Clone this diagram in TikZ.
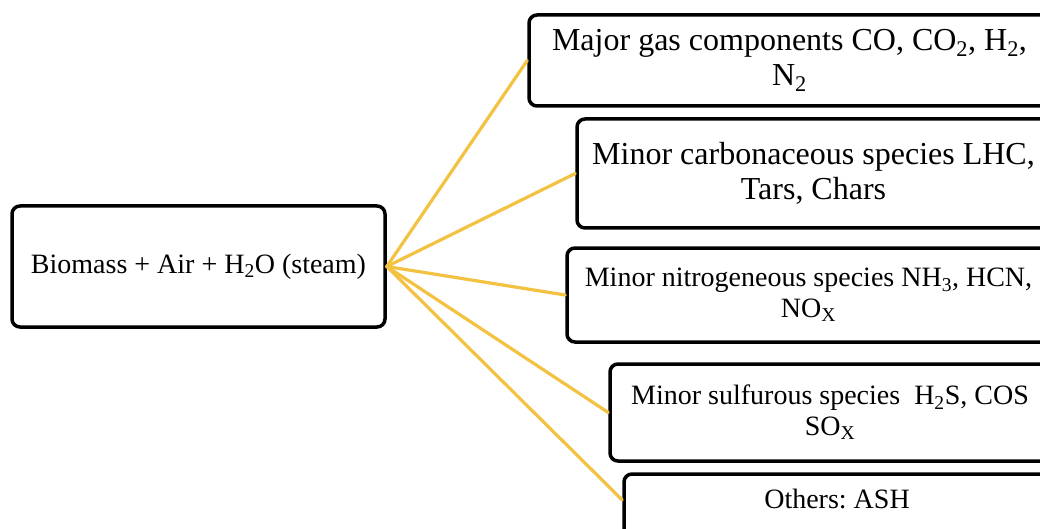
\documentclass[tikz,border=0pt]{standalone}
\usepackage{fontspec}
\setmainfont{Liberation Serif}
\frenchspacing
\definecolor{linkyellow}{HTML}{F4C242}
\tikzset{
	box/.style={draw=black,line width=3.5pt,rounded corners=8pt,align=center,inner sep=0pt,fill=white},
	link/.style={draw=linkyellow,line width=3.2pt,line cap=round},
	bigtext/.style={font=\fontsize{32}{35}\selectfont},
	smalltext/.style={font=\fontsize{28}{31}\selectfont}
}
\begin{document}
\begin{tikzpicture}[x=1pt,y=-1pt]
		\useasboundingbox (0,0) rectangle (1040,529);
		\clip (0,0) rectangle (1040,529);
		\node[box,smalltext,minimum width=373pt,minimum height=121pt] (src) at (198.5,266.5) {Biomass + Air + H\textsubscript{2}O (steam)};
		\node[box,bigtext,minimum width=521pt,minimum height=91pt] (gas) at (789.5,60.5) {Major gas components CO, CO\textsubscript{2}, H\textsubscript{2},\\N\textsubscript{2}};
		\node[box,bigtext,minimum width=473pt,minimum height=109pt] (carb) at (813.5,173.5) {Minor carbonaceous species LHC,\\Tars, Chars};
		\node[box,smalltext,minimum width=483pt,minimum height=94pt] (nitro) at (808.5,295) {Minor nitrogeneous species NH\textsubscript{3}, HCN,\\NO\textsubscript{X}};
		\node[box,smalltext,minimum width=440pt,minimum height=97pt] (sulf) at (830,412.5) {Minor sulfurous species\ \ H\textsubscript{2}S, COS\\SO\textsubscript{X}};
		\node[box,smalltext,minimum width=426pt,minimum height=66pt,text depth=16pt] (ash) at (837,507) {Others: ASH};
		\foreach \n/\s in {gas/0,carb/0,nitro/0,sulf/0,ash/7}{
			\draw[link] (src.east) -- ([yshift=\s pt]\n.west);
		}
	\end{tikzpicture}
\end{document}
